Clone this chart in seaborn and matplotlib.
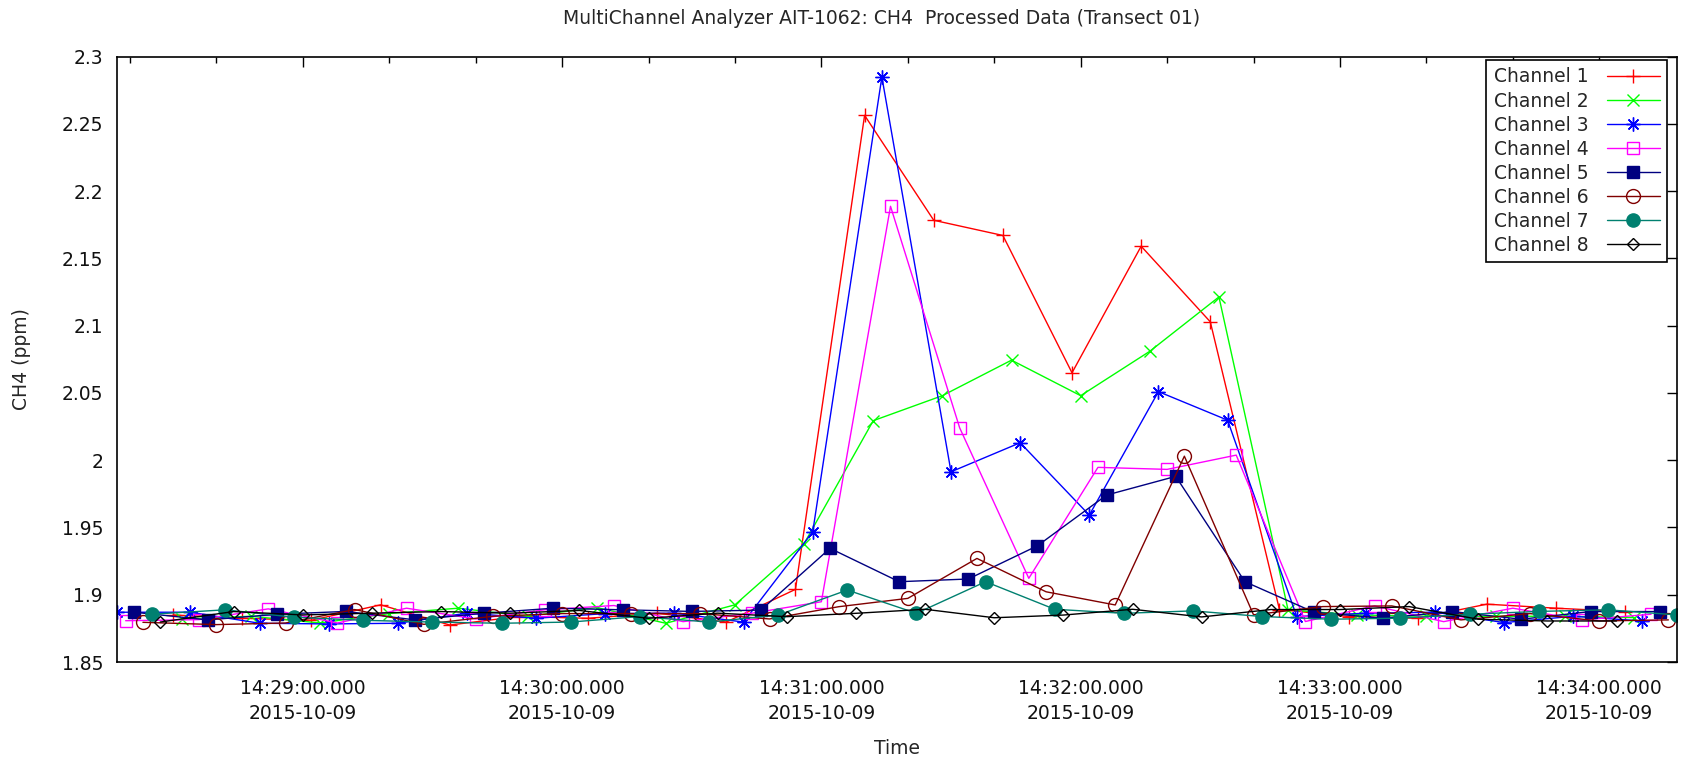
import numpy as np
import pandas as pd
import matplotlib
matplotlib.use("Agg")
import matplotlib.pyplot as plt
import matplotlib.dates as mdates
from matplotlib.ticker import FuncFormatter, MultipleLocator
import seaborn as sns

# ---- data -------------------------------------------------------------
DATE = "2015-10-09"
# start of each 8-channel scan (channel 1 slot); channels follow every 2 s
scan_starts = [
    "14:28:13", "14:28:30", "14:28:46", "14:29:02", "14:29:18", "14:29:34",
    "14:29:50", "14:30:06", "14:30:22", "14:30:38", "14:30:54", "14:31:10",
    "14:31:26", "14:31:42", "14:31:58", "14:32:14", "14:32:30", "14:32:46",
    "14:33:02", "14:33:18", "14:33:34", "14:33:50", "14:34:06",
]
CHANNEL_STEP_S = 2
nan = np.nan

ch1 = [nan, 1.885, 1.8825, 1.881, 1.8925, 1.8775, 1.8838, 1.8825, 1.8863, 1.8797,
       1.904, 2.2564, 2.1784, 2.1671, 2.065, 2.1591, 2.1029, 1.889, 1.8838,
       1.8825, 1.893, 1.890, 1.8875]
ch2 = [nan, 1.882, 1.884, 1.879, 1.886, 1.890, 1.884, 1.8905, 1.8788, 1.8925,
       1.938, 2.0294, 2.048, 2.0744, 2.048, 2.081, 2.1214, 1.8887, 1.885,
       1.884, 1.884, 1.884, 1.883]
ch3 = [1.887, 1.887, 1.8788, 1.8783, 1.8788, 1.8863, 1.8825, 1.886, 1.8863, 1.8797,
       1.9468, 2.2849, 1.9914, 2.013, 1.9592, 2.051, 2.0298, 1.8838, 1.8863,
       1.887, 1.8793, 1.884, 1.8805]
ch4 = [1.8807, 1.8815, 1.8895, 1.879, 1.890, 1.882, 1.8888, 1.892, 1.880, 1.8863,
       1.8948, 2.1888, 2.0241, 1.9122, 1.9947, 1.9932, 2.0038, 1.8801, 1.8917,
       1.880, 1.890, 1.8813, 1.8855]
ch5 = [1.887, 1.8813, 1.8855, 1.8876, 1.8813, 1.8863, 1.890, 1.8888, 1.8876, 1.8886,
       1.9345, 1.9097, 1.9117, 1.9364, 1.9741, 1.988, 1.9097, 1.887, 1.8826,
       1.8875, 1.8818, 1.8875, 1.8875]
ch6 = [1.8795, 1.8778, 1.879, 1.889, 1.878, 1.884, 1.886, 1.886, 1.886, 1.882,
       1.8911, 1.8973, 1.927, 1.9022, 1.8924, 2.003, 1.8851, 1.8912, 1.8917,
       1.8813, 1.886, 1.8805, 1.8813]
ch7 = [1.8855, 1.8888, 1.8833, 1.881, 1.8797, 1.8788, 1.8797, 1.8838, 1.8797, 1.8849,
       1.9035, 1.8862, 1.9097, 1.8892, 1.8862, 1.888, 1.8838, 1.8818, 1.8826,
       1.8855, 1.8876, 1.8888, 1.885]
ch8 = [1.8797, 1.8875, 1.885, 1.8863, 1.8875, 1.8863, 1.8883, 1.8825, 1.8863, 1.8837,
       1.8862, 1.8892, 1.8829, 1.8849, 1.8892, 1.8835, 1.889, 1.889, 1.8912,
       1.8818, 1.8805, 1.8805, nan]

channel_values = [ch1, ch2, ch3, ch4, ch5, ch6, ch7, ch8]
channel_names = [f"Channel {i}" for i in range(1, 9)]

# ---- styles (gnuplot-like point types) -------------------------------
styles = [
    dict(color="#ff0000", marker="+", ms=10, mfc="#ff0000"),
    dict(color="#00ff00", marker="x", ms=8, mfc="#00ff00"),
    dict(color="#0000ff", marker=(8, 2, 0), ms=10, mfc="#0000ff"),
    dict(color="#ff00ff", marker="s", ms=9, mfc="none"),
    dict(color="#000080", marker="s", ms=8, mfc="#000080"),
    dict(color="#800000", marker="o", ms=10, mfc="none"),
    dict(color="#008070", marker="o", ms=9.5, mfc="#008070"),
    dict(color="#000000", marker="D", ms=6.5, mfc="none"),
]

sns.set_theme(style="white")
plt.rcParams["font.family"] = ["DejaVu Sans"]
plt.rcParams["font.size"] = 13.5

W, H = 1682, 761
fig = plt.figure(figsize=(W / 100, H / 100), dpi=100)
fig.patch.set_facecolor("white")
L, R, T, B = 117, 1677, 56.7, 662
ax = fig.add_axes([L / W, 1 - B / H, (R - L) / W, (B - T) / H])
ax.set_facecolor("white")

base_times = pd.to_datetime([f"{DATE} {t}" for t in scan_starts])
all_times = []
for i, (name, vals, st) in enumerate(zip(channel_names, channel_values, styles)):
    times = base_times + pd.Timedelta(seconds=CHANNEL_STEP_S * i)
    df = pd.DataFrame({"time": times, "ch4": vals}).dropna()
    all_times.extend(df["time"].tolist())
    sns.lineplot(data=df, x="time", y="ch4", ax=ax, label=name,
                 color=st["color"], marker=st["marker"], ms=st["ms"],
                 mfc=st["mfc"], mec=st["color"], mew=1.0, lw=1.0,
                 errorbar=None, sort=True)

ax.set_xlim(min(all_times), max(all_times))
ax.set_ylim(1.85, 2.3)

ax.xaxis.set_major_locator(mdates.MinuteLocator())
ax.xaxis.set_minor_locator(mdates.SecondLocator(bysecond=[20, 40]))
ax.xaxis.set_major_formatter(
    FuncFormatter(lambda v, p: mdates.num2date(v).strftime("%H:%M:%S.000\n%Y-%m-%d")))
ax.yaxis.set_major_locator(MultipleLocator(0.05))
ax.yaxis.set_major_formatter(FuncFormatter(lambda v, p: f"{round(v, 4):g}"))

ax.tick_params(which="both", direction="in", top=True, right=True,
               color="black", width=1.0, labelsize=13.5, labelcolor="#111111")
ax.tick_params(which="major", length=7)
ax.tick_params(which="minor", length=4)
ax.tick_params(axis="x", which="major", pad=12)
ax.tick_params(axis="y", which="major", pad=10)
for sp in ax.spines.values():
    sp.set_visible(True)
    sp.set_color("black")
    sp.set_linewidth(1.2)

ax.set_xlabel("Time", fontsize=13.5, va="center")
ax.xaxis.set_label_coords(0.5, -(748 - B) / (B - T))
ax.set_ylabel("CH4 (ppm)", fontsize=13.5, va="center")
ax.yaxis.set_label_coords((21 - L) / (R - L), 0.5)
ax.set_title("MultiChannel Analyzer AIT-1062: CH4  Processed Data (Transect 01)",
             fontsize=13.5, x=(882 - L) / (R - L), y=(B - 19) / (B - T),
             va="center", pad=0)

leg = ax.legend(loc="upper right", bbox_to_anchor=(1667 / W, 1 - 60 / H),
                bbox_transform=fig.transFigure, markerfirst=False, frameon=True,
                fancybox=False, edgecolor="black", framealpha=1, handlelength=2.8,
                handletextpad=1.0, labelspacing=0.27, borderpad=0.4,
                borderaxespad=0, numpoints=1, fontsize=13.5)
leg.get_frame().set_linewidth(1.2)

fig.canvas.draw()
for tick in ax.xaxis.get_major_ticks():
    tick.label1.set_linespacing(1.45)

fig.savefig("out.png", dpi=100, facecolor="white")
